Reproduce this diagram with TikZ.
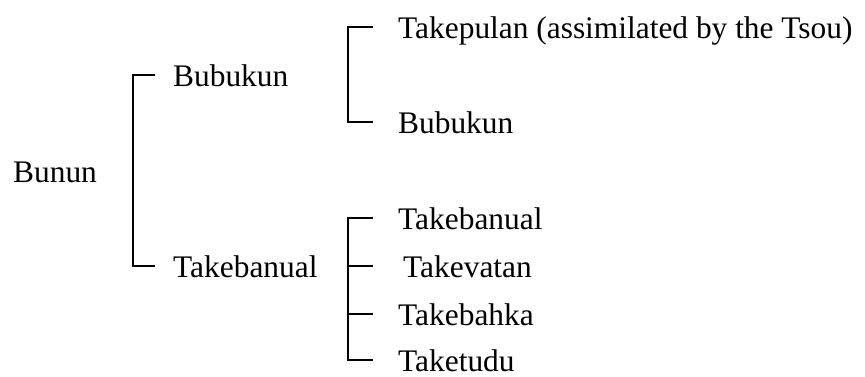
\documentclass[tikz,border=0pt]{standalone}
\usepackage{fontspec}
\setmainfont{Liberation Serif}
\usetikzlibrary{calc}
\begin{document}
\begin{tikzpicture}[x=1pt,y=-1pt,
  lbl/.style={anchor=west,inner sep=0pt,text height=23pt,text depth=0pt,font=\fontsize{31.4}{31.4}\selectfont},
  br/.style={line width=1.8pt,line cap=butt,line join=miter}]
\useasboundingbox (0,0) rectangle (865,376);
% nodes
\node[lbl] (bunun) at (13,171) {Bunun};
\node[lbl] (bub1) at (173,75) {Bubukun};
\node[lbl] (tak1) at (173,266) {Takebanual};
\node[lbl] (tkp) at (398,27) {Takepulan (assimilated by the Tsou)};
\node[lbl] (bub2) at (398,122) {Bubukun};
\node[lbl] (tak2) at (398,218) {Takebanual};
\node[lbl] (tkv) at (403,266) {Takevatan};
\node[lbl] (tkb) at (398,314) {Takebahka};
\node[lbl] (tkt) at (398,360) {Taketudu};
% brackets
\draw[br] ($(bub1.west)+(-18,0)$) -| ($(tak1.west)+(-40,0)$) -- ($(tak1.west)+(-18,0)$);
\draw[br] ($(tkp.west)+(-25,0)$) -| ($(bub2.west)+(-50,0)$) -- ($(bub2.west)+(-25,0)$);
\draw[br] ($(tak2.west)+(-25,0)$) -| ($(tkt.west)+(-50,0)$) -- ($(tkt.west)+(-25,0)$);
\draw[br] ($(tkv.west)+(-55,0)$) -- ($(tkv.west)+(-30,0)$);
\draw[br] ($(tkb.west)+(-50,0)$) -- ($(tkb.west)+(-25,0)$);
\end{tikzpicture}
\end{document}
